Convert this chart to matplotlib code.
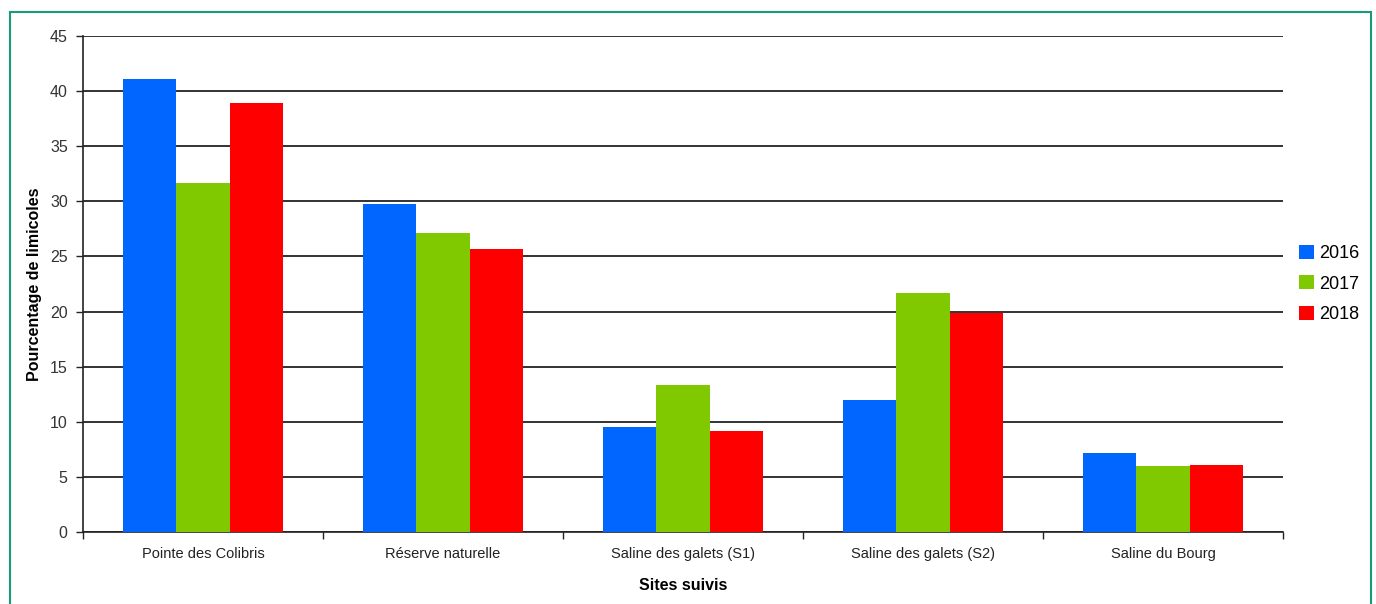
import matplotlib
matplotlib.use("Agg")
import matplotlib.pyplot as plt
import numpy as np
from matplotlib.patches import Rectangle

sites = ["Pointe des Colibris", "Réserve naturelle", "Saline des galets (S1)",
         "Saline des galets (S2)", "Saline du Bourg"]
years = ["2016", "2017", "2018"]
v2016 = [41.1, 29.8, 9.5, 12.0, 7.2]
v2017 = [31.7, 27.1, 13.3, 21.7, 6.0]
v2018 = [38.9, 25.7, 9.2, 19.9, 6.1]
colors = ["#0066ff", "#80c800", "#ff0000"]
yticks = [0, 5, 10, 15, 20, 25, 30, 35, 40, 45]

plt.rcParams['font.family'] = ['Liberation Sans', 'DejaVu Sans']

W, H = 1376, 604
fig = plt.figure(figsize=(W/100, H/100), dpi=100)
fig.patches.append(Rectangle((10/W, -0.05), (1371-10)/W, (604-12)/H + 0.05,
                             transform=fig.transFigure, fill=False,
                             edgecolor="#1a9a7a", linewidth=1.5))
ax = fig.add_axes([83/W, (604-532)/H, 1200/W, 496/H])

x = np.arange(len(sites))
bw = 0.222
for i, (vals, c, lab) in enumerate(zip([v2016, v2017, v2018], colors, years)):
    ax.bar(x + (i-1)*bw, vals, width=bw, color=c, label=lab, zorder=3)

ax.set_xlim(-0.5, len(sites)-0.5)
ax.set_ylim(0, 45)
ax.set_yticks(yticks)
ax.set_yticklabels([str(t) for t in yticks], fontsize=11.5, color="#333333")
ax.yaxis.grid(True, color="#111111", linewidth=1.2, zorder=0)
ax.set_axisbelow(True)

ax.set_xticks(x)
ax.set_xticklabels(sites, fontsize=10.5, color="#222222")
ax.tick_params(axis='x', length=0, pad=11)
ax.set_xticks(np.arange(-0.5, len(sites)), minor=True)
ax.tick_params(axis='x', which='minor', length=5, width=1, color="#222222")
ax.tick_params(axis='y', length=5, width=1, color="#222222", pad=6)

for s in ["top", "right"]:
    ax.spines[s].set_visible(False)
for s in ["left", "bottom"]:
    ax.spines[s].set_color("#222222")
    ax.spines[s].set_linewidth(1.2)

ax.set_ylabel("Pourcentage de limicoles", fontsize=11.5, fontweight="bold", labelpad=6)
ax.set_xlabel("Sites suivis", fontsize=11.5, fontweight="bold", labelpad=12)

ax.legend(loc="center left", bbox_to_anchor=(1298/1200 - 83/1200 - 0.005, 0.5),
          frameon=False, fontsize=13, handlelength=0.8, handleheight=0.8,
          handletextpad=0.3, labelspacing=0.75, borderaxespad=0)

fig.savefig("out.png", dpi=100)
